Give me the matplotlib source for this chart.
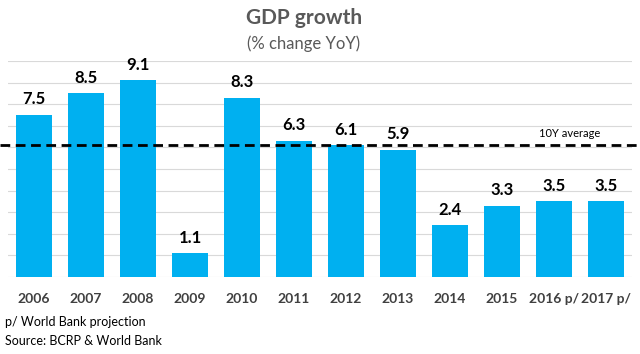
import matplotlib.pyplot as plt

years = ["2006", "2007", "2008", "2009", "2010", "2011",
         "2012", "2013", "2014", "2015", "2016 p/", "2017 p/"]
growth = [7.5, 8.5, 9.1, 1.1, 8.3, 6.3, 6.1, 5.9, 2.4, 3.3, 3.5, 3.5]
avg_10y = 6.1

plt.rcParams['font.family'] = ['Lato', 'DejaVu Sans']

fig = plt.figure(figsize=(6.4, 3.54), dpi=100)
ax = fig.add_axes([8 / 640, 1 - 277 / 354, 624 / 640, 216 / 354])

x = range(len(years))
ax.bar(x, growth, width=0.71, color="#00B0F0", zorder=2)
for i, v in zip(x, growth):
    ax.text(i, v + 0.35, f"{v:.1f}", ha="center", va="bottom",
            fontsize=12, fontweight="bold", color="black")

ax.set_xlim(-0.5, len(years) - 0.5)
ax.set_ylim(0, 10)
ax.set_yticks(range(0, 11))
ax.yaxis.grid(True, color="#d9d9d9", linewidth=0.8, zorder=0)
ax.tick_params(axis="y", left=False, labelleft=False)
ax.tick_params(axis="x", bottom=False, pad=8)
ax.set_xticks(list(x))
ax.set_xticklabels(years, fontsize=10, fontweight="bold", color="#404040")
for s in ax.spines.values():
    s.set_visible(False)

# average line runs across the whole figure
ax.plot([-0.66, len(years) - 0.34], [avg_10y, avg_10y], color="black",
        linestyle=(0, (3.5, 2)), linewidth=2, zorder=3, clip_on=False)
ax.text(10.3, avg_10y + 0.3, "10Y average", ha="center", va="bottom",
        fontsize=8, color="black")

fig.text(0.475, 1 - 18 / 354, "GDP growth", ha="center", va="center",
         fontsize=15, fontweight="bold", color="#595959")
fig.text(0.475, 1 - 44 / 354, "(% change YoY)", ha="center", va="center",
         fontsize=12, color="#595959")
fig.text(5 / 640, 1 - 322 / 354, "p/ World Bank projection", ha="left",
         va="center", fontsize=9, color="black")
fig.text(5 / 640, 1 - 341 / 354, "Source: BCRP & World Bank", ha="left",
         va="center", fontsize=9, color="black")

fig.savefig("out.png", dpi=100)
